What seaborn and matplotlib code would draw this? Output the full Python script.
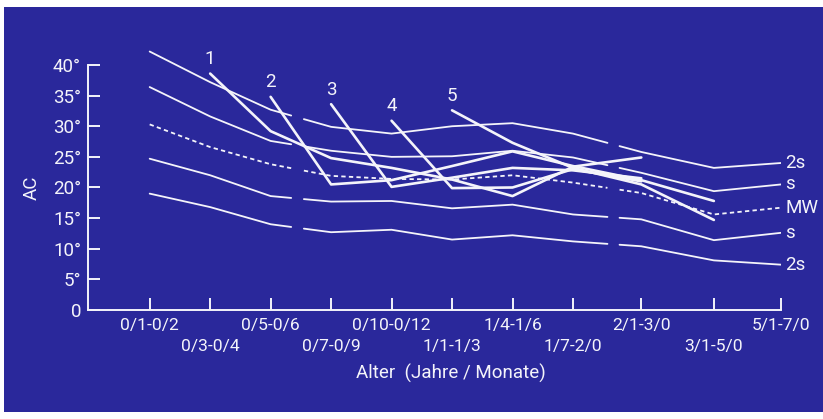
import numpy as np
import pandas as pd
import matplotlib.pyplot as plt
from matplotlib.patches import Rectangle
import seaborn as sns

BLUE = "#2a289b"
WHITE = "#f4f4fa"
FS = 13.5

ages = ["0/1-0/2", "0/3-0/4", "0/5-0/6", "0/7-0/9", "0/10-0/12", "1/1-1/3",
        "1/4-1/6", "1/7-2/0", "2/1-3/0", "3/1-5/0", "5/1-7/0"]
# tick positions are not evenly spaced in the original
x_pos = [0, 1, 2, 3, 4, 5, 6, 7, 8.13, 9.33, 10.44]

upper_2s = [42.2, 37.2, 32.7, 29.9, 28.8, 30.0, 30.5, 28.8, 25.8, 23.2, 24.0]
upper_s = [36.4, 31.6, 27.6, 26.0, 25.0, 25.1, 26.0, 24.9, 22.4, 19.4, 20.5]
mw = [30.3, 26.6, 23.8, 21.9, 21.4, 21.3, 22.0, 20.8, 19.1, 15.6, 16.7]
lower_s = [24.7, 22.0, 18.6, 17.7, 17.8, 16.6, 17.2, 15.6, 14.8, 11.4, 12.6]
lower_2s = [19.0, 16.8, 14.0, 12.7, 13.1, 11.5, 12.2, 11.2, 10.4, 8.1, 7.4]
norm_labels = ["2s", "s", "MW", "s", "2s"]

nan = np.nan
child_1 = [nan, 38.6, 29.2, 24.8, 23.2, 21.3, 18.6, 23.4, 24.9, nan, nan]
child_2 = [nan, nan, 34.8, 20.5, 21.2, 23.5, 25.9, 23.5, 21.2, 17.8, nan]
child_3 = [nan, nan, nan, 33.6, 20.1, 21.6, 23.2, 22.8, 21.5, nan, nan]
child_4 = [nan, nan, nan, nan, 30.9, 19.9, 20.0, 23.0, 21.0, nan, nan]
child_5 = [nan, nan, nan, nan, nan, 32.6, 27.3, 23.2, 20.5, 14.7, nan]
child_labels = ["1", "2", "3", "4", "5"]

# breaks in the norm curves (x ranges left blank)
gaps = [(2.34, 2.55), (7.57, 7.77)]

sns.set_theme(style="ticks")
plt.rcParams["font.family"] = ["Roboto", "DejaVu Sans"]

fig = plt.figure(figsize=(8.23, 4.19), dpi=100, facecolor="white")
fig.patches.append(Rectangle((4 / 823, 7 / 419), 819 / 823, 405 / 419,
                             transform=fig.transFigure, facecolor=BLUE,
                             edgecolor="none", zorder=-10))
ax = fig.add_axes([88 / 823, 109 / 419, 693 / 823, 270 / 419])
ax.set_zorder(1)
ax.set_facecolor(BLUE)


def segments(xs, ys):
    edges = [xs[0]] + [g for gap in gaps for g in gap] + [xs[-1]]
    for lo, hi in zip(edges[::2], edges[1::2]):
        sx = np.array([lo] + [x for x in xs if lo < x < hi] + [hi])
        yield sx, np.interp(sx, xs, ys)


norms = [upper_2s, upper_s, mw, lower_s, lower_2s]
for vals, lab in zip(norms, norm_labels):
    style = (0, (2.4, 1.8)) if lab == "MW" else "-"
    for sx, sy in segments(x_pos, vals):
        sns.lineplot(x=sx, y=sy, ax=ax, color=WHITE, lw=1.3,
                     linestyle=style, zorder=2)
    ax.annotate(lab, (x_pos[-1], vals[-1]), xytext=(3, 0),
                textcoords="offset points", ha="left", va="center",
                color=WHITE, fontsize=FS, annotation_clip=False)

children = [child_1, child_2, child_3, child_4, child_5]
for vals, lab in zip(children, child_labels):
    df = pd.DataFrame({"x": x_pos, "y": vals}).dropna()
    sns.lineplot(data=df, x="x", y="y", ax=ax, color=WHITE, lw=1.9, zorder=3)
    ax.annotate(lab, (df["x"].iloc[0], df["y"].iloc[0]), xytext=(0, 4),
                textcoords="offset points", ha="center", va="bottom",
                color=WHITE, fontsize=FS)

ax.set_xlim(-1.02, 10.44)
ax.set_ylim(0, 44.08)
# age labels alternate between two rows: even ones as major, odd ones as minor ticks
ax.set_xticks(x_pos[::2], ages[::2])
ax.set_xticks(x_pos[1::2], ages[1::2], minor=True)
ax.set_yticks(range(0, 41, 5), ["0"] + [f"{v}°" for v in range(5, 41, 5)])
ax.tick_params(direction="in", length=8.6, width=1.4, colors=WHITE,
               labelsize=FS, pad=5)
ax.tick_params(axis="x", which="both", direction="in", length=8.6, width=1.4,
               colors=WHITE, labelsize=12.6, pad=6)
ax.tick_params(axis="x", which="minor", pad=21)
for s in ["top", "right"]:
    ax.spines[s].set_visible(False)
for s in ["left", "bottom"]:
    ax.spines[s].set_color(WHITE)
    ax.spines[s].set_linewidth(1.4)
ax.spines["left"].set_bounds(0, 40)

ax.set_xlabel("Alter  (Jahre / Monate)", color=WHITE, fontsize=FS, va="center")
ax.xaxis.set_label_coords(0.524, -0.233)
ax.set_ylabel("AC", color=WHITE, fontsize=FS, va="center")
ax.yaxis.set_label_coords(-0.0815, 0.452)

fig.savefig("out.png", dpi=100, facecolor=fig.get_facecolor())
